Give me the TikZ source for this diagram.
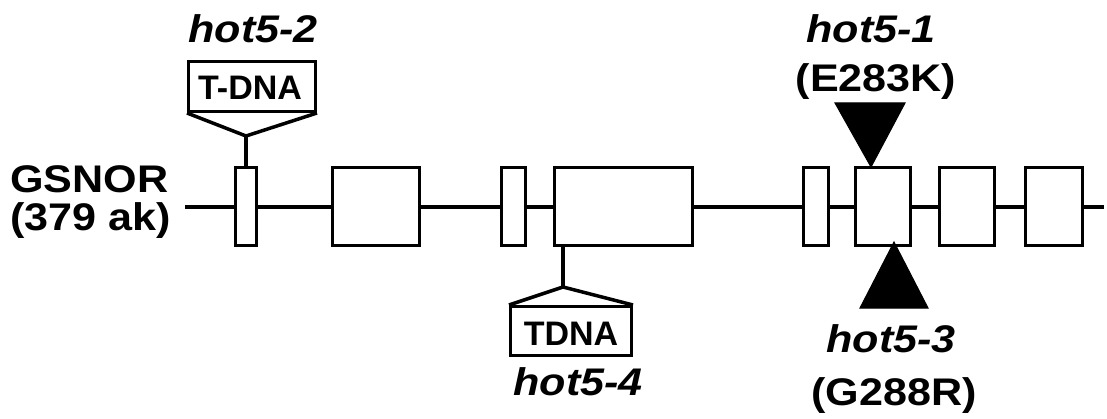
\documentclass[tikz,border=0pt]{standalone}
\usepackage{fontspec}
\setmainfont{Liberation Sans}
\newfontfamily\widefont[FakeStretch=1.12]{Liberation Sans}
\usetikzlibrary{positioning}
\tikzset{
  exon/.style={draw, fill=white, line width=3pt, inner sep=0pt, minimum height=78pt},
  lbl/.style={font=\widefont\fontsize{38.5}{40}\selectfont\bfseries, inner sep=0pt, anchor=base},
  mut/.style={font=\widefont\fontsize{38.5}{40}\selectfont\bfseries\itshape, inner sep=0pt, anchor=base},
  tdna/.style={draw, line width=3pt, inner sep=0pt},
  tdnatext/.style={font=\fontsize{34}{36}\selectfont\bfseries, inner sep=0pt, anchor=base},
  conn/.style={line width=3.5pt},
  tri/.style={fill=black, draw=black, line width=1pt, line join=miter}
}
\begin{document}
\begin{tikzpicture}[x=1pt,y=-1pt]
\useasboundingbox (0,0) rectangle (1107,419);
% gene line
\coordinate (gstart) at (185,207);
\coordinate (gend) at (1104,207);
\draw[conn] (gstart) -- (gend);
% exons
\node[exon, minimum width=21pt] (e1) at (246,206.5) {};
\node[exon, minimum width=87pt] (e2) at (376,206.5) {};
\node[exon, minimum width=24pt] (e3) at (513.5,206.5) {};
\node[exon, minimum width=138pt] (e4) at (623.5,206.5) {};
\node[exon, minimum width=25pt] (e5) at (816,206.5) {};
\node[exon, minimum width=55pt] (e6) at (883,206.5) {};
\node[exon, minimum width=55pt] (e7) at (967,206.5) {};
\node[exon, minimum width=57pt] (e8) at (1054,206.5) {};
% gene name
\node[lbl, anchor=base west] (gname) at (10,193) {GSNOR};
\node[lbl, anchor=base west] (glen) at (10,231) {(379 ak)};
% hot5-2 T-DNA insertion
\node[mut] (m2) at (253,43) {hot5-2};
\node[tdna, minimum width=127pt, minimum height=50pt] (t2) at (252,86.5) {};
\node[tdnatext] (t2txt) at (250,100) {T-DNA};
\coordinate (a2) at (246,136);
\draw[conn, line join=miter] (t2.south west) -- (a2) -- (t2.south east);
\draw[conn] (a2) -- (e1.north -| a2);
% hot5-4 T-DNA insertion
\coordinate (a4) at (563,287);
\node[tdna, minimum width=121pt, minimum height=49pt] (t4) at (571,331) {};
\node[tdnatext] (t4txt) at (571,345) {TDNA};
\draw[conn] (e4.south -| a4) -- (a4);
\draw[conn, line join=miter] (t4.north west) -- (a4) -- (t4.north east);
\node[mut] (m4) at (578,395) {hot5-4};
% hot5-1 point mutation
\node[mut] (m1) at (871,43) {hot5-1};
\node[lbl] (p1) at (876,92) {(E283K)};
\coordinate (d1) at (871,167);
\fill[tri] (835,103) -- (905,103) -- (d1) -- cycle;
% hot5-3 point mutation
\coordinate (u3) at (894,242);
\fill[tri] (860,308) -- (928,308) -- (u3) -- cycle;
\node[mut] (m3) at (891,352) {hot5-3};
\node[lbl] (p3) at (894,405) {(G288R)};
\end{tikzpicture}
\end{document}
